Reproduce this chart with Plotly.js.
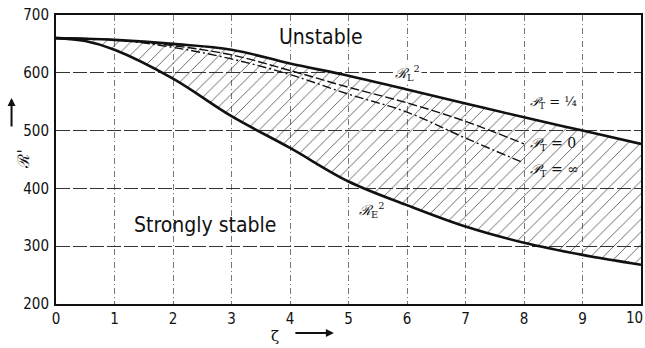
<!DOCTYPE html>
<html><head><meta charset="utf-8">
<script src="https://cdn.plot.ly/plotly-3.0.1.min.js"></script>
<style>html,body{margin:0;padding:0;background:#fff}#chart{width:645px;height:348px}</style>
</head><body><div id="chart"></div>
<script>
// zeta values
const zeta = [0, 0.5, 1, 2, 3, 4, 5, 6, 7, 8, 9, 10];
// R_L^2 (upper bound, P_T = 1/4)
const RL2 = [660, 659, 657, 650, 640, 616, 595, 571, 547, 523, 500, 477];
// R_E^2 (lower bound)
const RE2 = [660, 655, 640, 590, 525, 470, 412, 371, 334, 306, 285, 268];
// P_T = 0 and P_T = infinity curves
const zetaP = [0, 1, 2, 3, 4, 5, 6, 7, 8];
const PT0 = [660, 657, 647, 631, 604, 575, 548, 516, 477];
const PTinf = [660, 657, 644, 624, 597, 563, 532, 487, 444];
const xTicks = [0,1,2,3,4,5,6,7,8,9];
const yTicks = [200,300,400,500,600,700];

const font = "DejaVu Sans Condensed, Liberation Sans Narrow, sans-serif";
const traces = [
  {x: zeta, y: RE2, mode: 'lines', line: {color: '#111', width: 2.6, shape: 'spline'}, hoverinfo: 'skip'},
  {x: zeta, y: RL2, mode: 'lines', line: {color: '#111', width: 2.6, shape: 'spline'}, fill: 'tonexty',
   fillcolor: 'rgba(0,0,0,0)', fillpattern: {shape: '/', fgcolor: '#333', bgcolor: 'rgba(255,255,255,0)', size: 9, solidity: 0.08}, hoverinfo: 'skip'},
  {x: zetaP, y: PT0, mode: 'lines', line: {color: '#111', width: 1.4, dash: '9px,3px', shape: 'spline'}, hoverinfo: 'skip'},
  {x: zetaP, y: PTinf, mode: 'lines', line: {color: '#111', width: 1.4, dash: '9px,3px,2px,3px', shape: 'spline'}, hoverinfo: 'skip'}
];
const ann = (x, y, text, size, extra) => Object.assign({x, y, text, showarrow: false, font: {family: font, size, color: '#111'}}, extra || {});
const sfont = "DejaVu Serif, serif";
const annotations = [
  ann(4.53, 662, 'Unstable', 21),
  ann(2.55, 337, 'Strongly stable', 21),
  ann(6.0, 600, '<i>ℛ</i><sub>L</sub><sup>2</sup>', 14, {bgcolor: '#fff', font: {family: sfont, size: 14, color: '#111'}}),
  ann(5.4, 362, '<i>ℛ</i><sub>E</sub><sup>2</sup>', 14, {font: {family: sfont, size: 14, color: '#111'}}),
  ann(8.0, 530, '<i>𝒫</i><sub>T</sub> = ¼', 13, {xanchor: 'left', xshift: 4, yanchor: 'bottom', font: {family: sfont, size: 13, color: '#111'}}),
  ann(8.0, 477, '<i>𝒫</i><sub>T</sub> = 0', 14, {xanchor: 'left', xshift: 4, font: {family: sfont, size: 14, color: '#111'}}),
  ann(8.0, 432, '<i>𝒫</i><sub>T</sub> = ∞', 14, {xanchor: 'left', xshift: 4, font: {family: sfont, size: 14, color: '#111'}}),
  // "10" tick label at right edge
  {xref: 'x', yref: 'paper', x: 10, y: 0, xanchor: 'right', xshift: 4, yanchor: 'top', yshift: -3, text: '10', showarrow: false, font: {family: font, size: 15, color: '#111'}},
  // x axis label with arrow
  {xref: 'x', yref: 'paper', x: 3.75, y: -0.112, yanchor: 'middle', text: 'ζ', showarrow: false, font: {family: sfont, size: 15, color: '#111'}},
  {xref: 'x', yref: 'paper', x: 4.75, y: -0.1, text: '', showarrow: true, ax: -40, ay: 0, arrowhead: 2, arrowwidth: 2, arrowsize: 0.8, arrowcolor: '#111'},
  // y axis label with arrow
  {xref: 'paper', yref: 'paper', x: -0.076, y: 0.5, text: "ℛ'", textangle: -90, showarrow: false, font: {family: sfont, size: 16, color: '#111'}},
  {xref: 'paper', yref: 'paper', x: -0.076, y: 0.713, text: '', showarrow: true, ax: 0, ay: 30, arrowhead: 2, arrowwidth: 2, arrowsize: 0.8, arrowcolor: '#111'}
];
const layout = {
  width: 645, height: 348,
  margin: {l: 56, r: 4, t: 15, b: 44},
  showlegend: false,
  paper_bgcolor: '#fff', plot_bgcolor: '#fff',
  xaxis: {range: [0, 10], tickvals: xTicks.concat([10]), ticktext: xTicks.map(String).concat(['']), showgrid: true, gridcolor: '#555', gridwidth: 0.8, griddash: '6px,3px,1px,3px',
    zeroline: false, showline: true, linecolor: '#111', linewidth: 2, mirror: true, ticks: '', tickfont: {family: font, size: 15, color: '#111'}},
  yaxis: {range: [200, 700], tickvals: yTicks, ticktext: yTicks.map(String), showgrid: true, gridcolor: '#333', gridwidth: 1, griddash: '14px,3px',
    zeroline: false, showline: true, linecolor: '#111', linewidth: 2, mirror: true, ticks: '', ticklabelstandoff: 2, tickfont: {family: font, size: 15, color: '#111'}},
  annotations
};
Plotly.newPlot('chart', traces, layout, {staticPlot: true, displayModeBar: false});
</script></body></html>
